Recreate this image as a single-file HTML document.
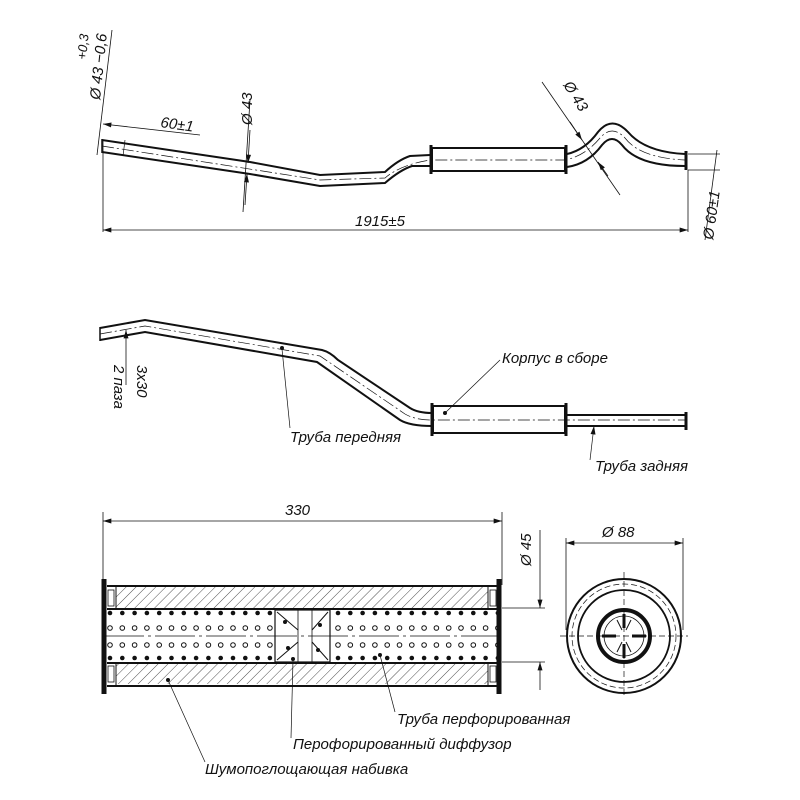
<!DOCTYPE html>
<html><head><meta charset="utf-8"><style>
html,body{margin:0;padding:0;background:#fff}
svg{display:block}
text{font-family:"Liberation Sans","DejaVu Sans",sans-serif;font-style:italic;font-size:15px;fill:#111}
</style></head><body>
<svg width="800" height="800" viewBox="0 0 800 800" xmlns="http://www.w3.org/2000/svg">
<defs>
<marker id="a" viewBox="0 0 10 6" refX="10" refY="3" markerWidth="12" markerHeight="5" orient="auto-start-reverse" markerUnits="userSpaceOnUse"><path d="M0,0 L10,3 L0,6z" fill="#111"/></marker>
<pattern id="h" width="7" height="7" patternUnits="userSpaceOnUse" patternTransform="rotate(45)"><line x1="0" y1="0" x2="0" y2="7" stroke="#222" stroke-width="0.8"/></pattern>
</defs>
<g fill="none" stroke="#111">
<!-- TOP VIEW -->
<path d="M102,140 L250,162 L320,175 L385,172 Q398,160 410,156 L430,155" stroke-width="2"/>
<path d="M102,152 L250,174 L320,186 L385,183 Q400,170 412,166 L430,166" stroke-width="2"/>
<line x1="102" y1="139" x2="102" y2="153" stroke-width="1.5"/>
<path d="M102,146 L320,180 L385,178 Q400,165 430,160 L565,160 Q585,156 600,138 Q612,124 625,138 Q640,158 685,160" stroke-width="0.7" stroke-dasharray="12,3,2,3"/>
<rect x="432" y="148" width="133" height="23" stroke-width="2"/>
<line x1="431" y1="145" x2="431" y2="174" stroke-width="3"/><line x1="566" y1="145" x2="566" y2="174" stroke-width="3"/>
<path d="M567,154 Q585,150 598,132 Q612,115 628,132 Q645,152 685,154" stroke-width="2"/>
<path d="M567,167 Q588,164 602,145 Q612,133 622,145 Q638,166 685,166" stroke-width="2"/>
<line x1="686" y1="151" x2="686" y2="170" stroke-width="3"/>
<line x1="125" y1="140" x2="123" y2="156" stroke-width="0.7"/>
<line x1="103" y1="232" x2="103" y2="140" stroke-width="0.8"/>
<line x1="688" y1="232" x2="688" y2="170" stroke-width="0.8"/>
<line x1="103" y1="230" x2="688" y2="230" stroke-width="0.8" marker-start="url(#a)" marker-end="url(#a)"/>
<line x1="103" y1="124" x2="200" y2="135" stroke-width="0.8" marker-start="url(#a)"/>
<line x1="97" y1="155" x2="112" y2="30" stroke-width="0.8"/>
<line x1="250" y1="100" x2="243" y2="212" stroke-width="0.8"/>
<line x1="250" y1="130" x2="248" y2="163" stroke-width="0.8" marker-end="url(#a)"/>
<line x1="245" y1="205" x2="247" y2="174" stroke-width="0.8" marker-end="url(#a)"/>
<line x1="542" y1="82" x2="620" y2="195" stroke-width="0.8"/>
<line x1="570" y1="122" x2="582" y2="140" stroke-width="0.8" marker-end="url(#a)"/>
<line x1="608" y1="176" x2="598" y2="162" stroke-width="0.8" marker-end="url(#a)"/>
<line x1="688" y1="154" x2="720" y2="154" stroke-width="0.8"/>
<line x1="688" y1="170" x2="720" y2="170" stroke-width="0.8"/>
<line x1="717" y1="150" x2="705" y2="240" stroke-width="0.8"/>
<!-- MIDDLE VIEW -->
<path d="M100,328 L145,320 L322,350 Q330,352 338,360 L410,408 Q418,413 432,413" stroke-width="2"/>
<path d="M100,340 L145,332 L317,362 L400,420 Q410,426 432,426" stroke-width="2"/>
<line x1="100" y1="327" x2="100" y2="341" stroke-width="1.5"/>
<path d="M100,334 L145,326 L320,356 L405,414 Q415,420 432,420 L685,420" stroke-width="0.7" stroke-dasharray="12,3,2,3"/>
<rect x="433" y="406" width="132" height="27" stroke-width="2"/>
<line x1="432" y1="403" x2="432" y2="436" stroke-width="3"/><line x1="566" y1="403" x2="566" y2="436" stroke-width="3"/>
<line x1="567" y1="415" x2="685" y2="415" stroke-width="2"/><line x1="567" y1="426" x2="685" y2="426" stroke-width="2"/>
<line x1="686" y1="412" x2="686" y2="430" stroke-width="3"/>
<line x1="126" y1="385" x2="126" y2="330" stroke-width="0.8" marker-end="url(#a)"/>
<line x1="282" y1="349" x2="290" y2="428" stroke-width="0.7"/>
<line x1="445" y1="413" x2="500" y2="360" stroke-width="0.7"/>
<line x1="590" y1="460" x2="594" y2="426" stroke-width="0.7" marker-end="url(#a)"/>
<!-- BOTTOM SECTION -->
<line x1="103" y1="512" x2="103" y2="585" stroke-width="0.8"/>
<line x1="502" y1="512" x2="502" y2="585" stroke-width="0.8"/>
<line x1="103" y1="521" x2="502" y2="521" stroke-width="0.8" marker-start="url(#a)" marker-end="url(#a)"/>
<rect x="116" y="587" width="372" height="21" fill="url(#h)" stroke="none"/>
<rect x="116" y="664" width="372" height="20" fill="url(#h)" stroke="none"/>
<line x1="107" y1="586" x2="498" y2="586" stroke-width="2"/>
<line x1="107" y1="609" x2="498" y2="609" stroke-width="2"/>
<line x1="107" y1="663" x2="498" y2="663" stroke-width="2"/>
<line x1="107" y1="686" x2="498" y2="686" stroke-width="2"/>
<line x1="116" y1="586" x2="116" y2="609" stroke-width="1"/><line x1="488" y1="586" x2="488" y2="609" stroke-width="1"/>
<line x1="116" y1="663" x2="116" y2="686" stroke-width="1"/><line x1="488" y1="663" x2="488" y2="686" stroke-width="1"/>
<rect x="108" y="590" width="6" height="16" stroke-width="0.8"/><rect x="490" y="590" width="6" height="16" stroke-width="0.8"/>
<rect x="108" y="666" width="6" height="16" stroke-width="0.8"/><rect x="490" y="666" width="6" height="16" stroke-width="0.8"/>
<line x1="104" y1="579" x2="104" y2="694" stroke-width="5"/>
<line x1="499" y1="579" x2="499" y2="694" stroke-width="5"/>
<line x1="104" y1="636" x2="500" y2="636" stroke-width="0.7" stroke-dasharray="40,4,3,4"/>
<rect x="275" y="610" width="55" height="52" stroke-width="1.2"/>
<rect x="298" y="610" width="14" height="52" stroke-width="0.8"/>
<path d="M277,612 L298,630 M277,660 L298,642 M328,612 L312,630 M328,660 L312,642" stroke-width="1"/>
<line x1="502" y1="608" x2="545" y2="608" stroke-width="0.8"/>
<line x1="502" y1="662" x2="545" y2="662" stroke-width="0.8"/>
<line x1="540" y1="530" x2="540" y2="608" stroke-width="0.8" marker-end="url(#a)"/>
<line x1="540" y1="690" x2="540" y2="662" stroke-width="0.8" marker-end="url(#a)"/>
<line x1="380" y1="655" x2="395" y2="712" stroke-width="0.7"/>
<line x1="293" y1="660" x2="291" y2="738" stroke-width="0.7"/>
<line x1="168" y1="680" x2="205" y2="762" stroke-width="0.7"/>
<!-- END VIEW -->
<line x1="566" y1="538" x2="566" y2="630" stroke-width="0.8"/>
<line x1="683" y1="538" x2="683" y2="630" stroke-width="0.8"/>
<line x1="566" y1="543" x2="683" y2="543" stroke-width="0.8" marker-start="url(#a)" marker-end="url(#a)"/>
<circle cx="624" cy="636" r="57" stroke-width="2"/>
<circle cx="624" cy="636" r="52" stroke-width="0.7" stroke-dasharray="6,3"/>
<circle cx="624" cy="636" r="46" stroke-width="1.8"/>
<circle cx="624" cy="636" r="26" stroke-width="4"/>
<circle cx="624" cy="636" r="20" stroke-width="0.8"/>
<path d="M624,614 L624,628 M624,644 L624,658 M602,636 L616,636 M632,636 L646,636" stroke-width="3"/>
<path d="M617,620 L622,630 M631,620 L626,630 M617,652 L622,642 M631,652 L626,642" stroke-width="1"/>
<line x1="624" y1="572" x2="624" y2="698" stroke-width="0.7" stroke-dasharray="6,3"/>
<line x1="560" y1="636" x2="688" y2="636" stroke-width="0.7" stroke-dasharray="6,3"/>
</g>
<g fill="#111">
<g id="r1">
<circle cx="110" cy="613" r="2.3"/><circle cx="110" cy="658" r="2.3"/>
<circle cx="110" cy="628" r="2.3" fill="none" stroke="#111" stroke-width="1"/><circle cx="110" cy="645" r="2.3" fill="none" stroke="#111" stroke-width="1"/>
</g>
<use href="#r1" x="12.3"/><use href="#r1" x="24.6"/><use href="#r1" x="36.9"/><use href="#r1" x="49.2"/><use href="#r1" x="61.5"/><use href="#r1" x="73.8"/><use href="#r1" x="86.1"/><use href="#r1" x="98.4"/><use href="#r1" x="110.7"/><use href="#r1" x="123"/><use href="#r1" x="135.3"/><use href="#r1" x="147.6"/><use href="#r1" x="159.9"/>
<use href="#r1" x="228"/><use href="#r1" x="240.3"/><use href="#r1" x="252.6"/><use href="#r1" x="264.9"/><use href="#r1" x="277.2"/><use href="#r1" x="289.5"/><use href="#r1" x="301.8"/><use href="#r1" x="314.1"/><use href="#r1" x="326.4"/><use href="#r1" x="338.7"/><use href="#r1" x="351"/><use href="#r1" x="363.3"/><use href="#r1" x="375.6"/><use href="#r1" x="387.9"/>
<circle cx="285" cy="622" r="2"/><circle cx="288" cy="648" r="2"/><circle cx="320" cy="625" r="2"/><circle cx="318" cy="650" r="2"/>
<circle cx="282" cy="348" r="2"/><circle cx="445" cy="413" r="2"/><circle cx="380" cy="655" r="2"/><circle cx="293" cy="659" r="2"/><circle cx="168" cy="680" r="2"/>
</g>
<text x="355" y="226">1915±5</text>
<text x="160" y="127" transform="rotate(8 160 127)">60±1</text>
<text x="252" y="125" transform="rotate(-90 252 125)">Ø 43</text>
<text x="100" y="100" transform="rotate(-84 100 100)">Ø 43 −0,6</text>
<text x="86" y="60" transform="rotate(-84 86 60)" style="font-size:13px">+0,3</text>
<text x="563" y="85" transform="rotate(58 563 85)">Ø 43</text>
<text x="713" y="240" transform="rotate(-82 713 240)">Ø 60±1</text>
<text x="137" y="365" transform="rotate(90 137 365)">3x30</text>
<text x="114" y="365" transform="rotate(90 114 365)">2 паза</text>
<text x="502" y="363">Корпус в сборе</text>
<text x="290" y="442">Труба передняя</text>
<text x="595" y="471">Труба задняя</text>
<text x="285" y="515">330</text>
<text x="531" y="566" transform="rotate(-90 531 566)">Ø 45</text>
<text x="602" y="537">Ø 88</text>
<text x="397" y="724">Труба перфорированная</text>
<text x="293" y="749">Перофорированный диффузор</text>
<text x="205" y="774">Шумопоглощающая набивка</text>
</svg>
</body></html>
